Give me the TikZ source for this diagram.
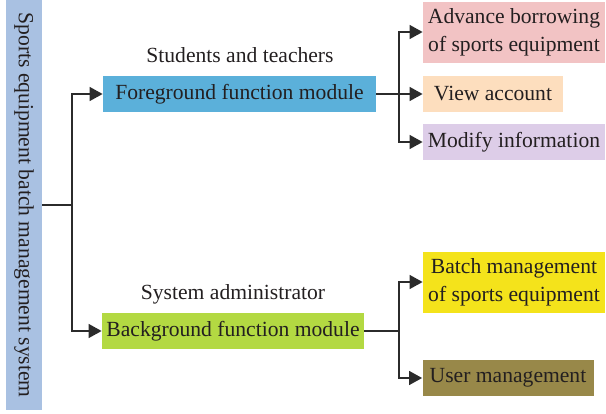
\documentclass[tikz,border=0pt]{standalone}
\usepackage{fontspec}
\setmainfont{Liberation Serif}
\usetikzlibrary{arrows.meta}
\definecolor{rootc}{HTML}{A9C1E2}
\definecolor{fgc}{HTML}{5BB0DA}
\definecolor{advc}{HTML}{F2C3C4}
\definecolor{viewc}{HTML}{FDDEBE}
\definecolor{modc}{HTML}{DDCDE8}
\definecolor{bgc}{HTML}{B3D942}
\definecolor{batchc}{HTML}{F4E31B}
\definecolor{userc}{HTML}{988849}
\definecolor{ink}{HTML}{231F20}
\definecolor{wire}{HTML}{2B2B2B}
\begin{document}
\begin{tikzpicture}[x=0.5pt,y=-0.5pt,
  every node/.style={text=ink,font=\fontsize{10.8pt}{14pt}\selectfont},
  box/.style={inner sep=0pt,align=center},
  wirel/.style={draw=wire,line width=0.65pt},
  arr/.style={wirel,-{Triangle[length=6.5pt,width=7pt]}}]
\useasboundingbox (0,0) rectangle (606,413);

% system root, text running downwards
\node[box,fill=rootc,rotate=-90,minimum width=205pt,minimum height=18pt] (root) at (24,205)
  {Sports equipment batch management system};

% function modules
\node[box,fill=fgc,minimum width=136.5pt,minimum height=18pt] (fg) at (239.5,94) {Foreground function module};
\node[box,fill=bgc,minimum width=131pt,minimum height=18pt] (bg) at (233,331) {Background function module};
\node (lfg) at (240,55) {Students and teachers};
\node (lbg) at (233,294) {System administrator};

% foreground sub-functions
\node[box,fill=advc,minimum width=91pt,minimum height=30.5pt] (adv) at (514,32) {Advance borrowing\\of sports equipment};
\node[box,fill=viewc,minimum width=70pt,minimum height=18pt] (view) at (493,94) {View account};
\node[box,fill=modc,minimum width=91pt,minimum height=18pt] (mod) at (514,142) {Modify information};

% background sub-functions
\node[box,fill=batchc,minimum width=91pt,minimum height=30.5pt] (batch) at (514,282) {Batch management\\of sports equipment};
\node[box,fill=userc,minimum width=85.5pt,minimum height=18pt] (user) at (508,378) {User management};

% junctions
\coordinate (j1) at (72,205);
\coordinate (j2) at (399,94);
\coordinate (j3) at (399,331);

\draw[wirel] (root.north) -- (j1);
\draw[arr] (j1) |- (fg.west);
\draw[arr] (j1) |- (bg.west);

\draw[wirel] (fg.east) -- (j2);
\draw[arr] (j2) -- (view.west);
\draw[arr] (j2) |- (adv.west);
\draw[arr] (j2) |- (mod.west);

\draw[wirel] (bg.east) -- (j3);
\draw[arr] (j3) |- (batch.west);
\draw[arr] (j3) |- (user.west);
\end{tikzpicture}
\end{document}
